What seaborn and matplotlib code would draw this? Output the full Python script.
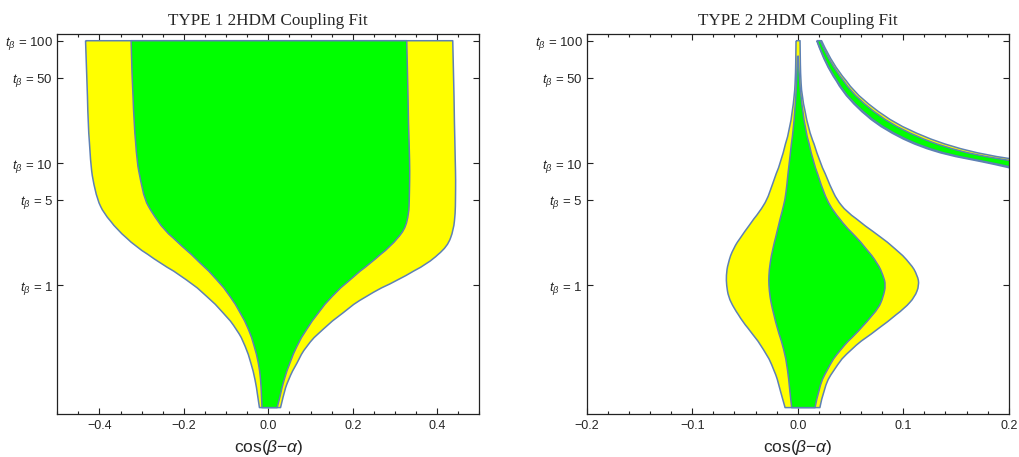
import numpy as np
import matplotlib
matplotlib.use("Agg")
import matplotlib.pyplot as plt
from matplotlib.path import Path
from matplotlib.patches import PathPatch
from matplotlib.ticker import MultipleLocator, NullLocator
import seaborn as sns

# ---------------- data ----------------
# TYPE 1 : tan(beta) values and boundaries in cos(beta-alpha)
t1 = [100, 50, 20, 10, 7.26, 4.98, 3.88, 2.83, 2.07, 1.51, 1.10, 0.807,
      0.590, 0.432, 0.315, 0.230, 0.168, 0.123, 0.100]
t1_outer_left = [-0.433, -0.430, -0.427, -0.421, -0.416, -0.405, -0.390, -0.358,
                 -0.315, -0.256, -0.192, -0.145, -0.106, -0.074, -0.054, -0.041,
                 -0.031, -0.025, -0.021]
t1_inner_left = [-0.325, -0.323, -0.318, -0.311, -0.303, -0.293, -0.275, -0.248,
                 -0.204, -0.161, -0.121, -0.090, -0.066, -0.046, -0.033, -0.023,
                 -0.018, -0.016, -0.015]
t1_inner_right = [0.328, 0.330, 0.332, 0.335, 0.335, 0.334, 0.333, 0.324,
                  0.290, 0.242, 0.193, 0.150, 0.118, 0.090, 0.067, 0.051,
                  0.037, 0.028, 0.021]
t1_outer_right = [0.437, 0.439, 0.441, 0.443, 0.444, 0.4435, 0.443, 0.439,
                  0.425, 0.380, 0.308, 0.229, 0.176, 0.128, 0.089, 0.068,
                  0.047, 0.035, 0.029]

# TYPE 2 : central region
t2 = [100, 75, 55, 34.8, 18.6, 10, 6.4, 5, 4, 3, 2.5, 2, 1.5, 1.2, 1, 0.8,
      0.65, 0.5, 0.4, 0.3, 0.2, 0.14, 0.1]
t2_outer_left = [-0.0016, -0.0018, -0.0020, -0.0030, -0.0073, -0.016, -0.0247,
                 -0.029, -0.0360, -0.047, -0.0535, -0.0610, -0.0662, -0.0678,
                 -0.0675, -0.0657, -0.0605, -0.052, -0.043, -0.0325, -0.0219,
                 -0.0168, -0.012]
t2_outer_right = [0.0022, 0.0024, 0.0026, 0.0038, 0.010, 0.021, 0.031, 0.037,
                  0.046, 0.065, 0.078, 0.092, 0.107, 0.1135, 0.1152, 0.111,
                  0.1016, 0.085, 0.070, 0.0505, 0.0334, 0.0244, 0.021]
t2g = [75, 55, 34.8, 18.6, 10, 6.4, 5, 4, 3, 2.5, 2, 1.5, 1.2, 1, 0.8,
       0.65, 0.5, 0.4, 0.3, 0.2, 0.14, 0.1]
t2_inner_left = [-0.0002, -0.0008, -0.0016, -0.004, -0.008, -0.0104, -0.012,
                 -0.0148, -0.0185, -0.0207, -0.0235, -0.0263, -0.0274, -0.0274,
                 -0.0263, -0.0242, -0.021, -0.0178, -0.0132, -0.0094, -0.0077,
                 -0.0057]
t2_inner_right = [0.0003, 0.0012, 0.0028, 0.0069, 0.0148, 0.0227, 0.0275,
                  0.0340, 0.0455, 0.0550, 0.0645, 0.0759, 0.081, 0.0835, 0.081,
                  0.0768, 0.0654, 0.0552, 0.0407, 0.0272, 0.0197, 0.0164]

# TYPE 2 : wrong-sign branch (thin band)
band_t = [100, 76, 56, 38, 28, 21, 16.4, 13.6, 11.6, 10.3, 9.2, 8.5]
band_y_lo = [0.0180, 0.0230, 0.0305, 0.0425, 0.0566, 0.0735, 0.0947, 0.1159,
             0.1416, 0.1735, 0.1991, 0.2168]
band_y_hi = [0.0226, 0.0290, 0.0385, 0.0535, 0.0714, 0.0925, 0.1193, 0.1461,
             0.1784, 0.2185, 0.2509, 0.2732]
band_g_lo = [0.0184, 0.0235, 0.0312, 0.0434, 0.0579, 0.0751, 0.0968, 0.1186,
             0.1448, 0.1774, 0.2036, 0.2217]
band_g_hi = [0.0214, 0.0274, 0.0364, 0.0506, 0.0675, 0.0876, 0.1129, 0.1382,
             0.1688, 0.2068, 0.2374, 0.2585]

titles = ["TYPE 1 2HDM Coupling Fit", "TYPE 2 2HDM Coupling Fit"]
ytick_vals = [1, 5, 10, 50, 100]
ytick_labels = [r"$t_\beta$ = 1", r"$t_\beta$ = 5", r"$t_\beta$ = 10",
                r"$t_\beta$ = 50", r"$t_\beta$ = 100"]
xticks_1 = [-0.4, -0.2, 0.0, 0.2, 0.4]
xlabels_1 = ["\u22120.4", "\u22120.2", "0.0", "0.2", "0.4"]
xticks_2 = [-0.2, -0.1, 0.0, 0.1, 0.2]
xlabels_2 = ["\u22120.2", "\u22120.1", "0.0", "0.1", "0.2"]
xlabel_text = "cos($\\beta$\u2212$\\alpha$)"

# ---------------- style ----------------
sns.set_style("ticks")
plt.rcParams["font.family"] = ["Liberation Sans", "DejaVu Sans"]
plt.rcParams["mathtext.fontset"] = "custom"
plt.rcParams["mathtext.rm"] = "Liberation Sans"
plt.rcParams["mathtext.it"] = "Liberation Sans:italic"
plt.rcParams["mathtext.bf"] = "Liberation Sans:bold"

YELLOW = "#FFFF00"
GREEN = "#00FF00"
EDGE = "#5E81B5"
LW = 1.1

fig = plt.figure(figsize=(10.19, 4.57), dpi=100)
ax1 = fig.add_axes([0.0562, 0.0947, 0.4142, 0.8302])
ax2 = fig.add_axes([0.5758, 0.0947, 0.4141, 0.8302])


def smooth_segment(pts, verts, codes):
    """Append a smooth (quadratic, midpoint) run through pts; pts[0] already placed."""
    n = len(pts)
    if n <= 2:
        verts.append(pts[-1]); codes.append(Path.LINETO)
        return
    for i in range(1, n - 1):
        mid = ((pts[i][0] + pts[i + 1][0]) / 2, (pts[i][1] + pts[i + 1][1]) / 2)
        if i == n - 2:
            mid = pts[n - 1]
        verts += [pts[i], mid]
        codes += [Path.CURVE3, Path.CURVE3]


def region(ax, t, lo, hi, color):
    left = list(zip(lo, t))
    right = list(zip(hi, t))[::-1]
    verts = [left[0]]
    codes = [Path.MOVETO]
    smooth_segment(left, verts, codes)
    verts.append(right[0]); codes.append(Path.LINETO)
    smooth_segment(right, verts, codes)
    verts.append(left[0]); codes.append(Path.LINETO)
    patch = PathPatch(Path(verts, codes), facecolor=color, edgecolor=EDGE,
                      lw=LW, zorder=2, joinstyle="round")
    ax.add_patch(patch)


region(ax1, t1, t1_outer_left, t1_outer_right, YELLOW)
region(ax1, t1, t1_inner_left, t1_inner_right, GREEN)

region(ax2, t2, t2_outer_left, t2_outer_right, YELLOW)
region(ax2, t2g, t2_inner_left, t2_inner_right, GREEN)
region(ax2, band_t, band_y_lo, band_y_hi, YELLOW)
region(ax2, band_t, band_g_lo, band_g_hi, GREEN)

for ax, title, xt, xl, xlim, xminor in [
        (ax1, titles[0], xticks_1, xlabels_1, (-0.5, 0.5), 0.05),
        (ax2, titles[1], xticks_2, xlabels_2, (-0.2, 0.2), 0.02)]:
    ax.set_yscale("log")
    ax.set_ylim(0.0891, 112.8)
    ax.set_xlim(*xlim)
    ax.set_yticks(ytick_vals)
    ax.set_yticklabels(ytick_labels)
    ax.yaxis.set_minor_locator(NullLocator())
    ax.set_xticks(xt)
    ax.set_xticklabels(xl)
    ax.xaxis.set_minor_locator(MultipleLocator(xminor))
    ax.tick_params(which="both", direction="in", top=True, right=True,
                   color="#222222", width=0.8)
    ax.tick_params(axis="y", labelsize=9.5, pad=3)
    ax.tick_params(axis="x", labelsize=9, pad=4.5)
    ax.tick_params(which="major", length=4)
    ax.tick_params(which="minor", length=2.2)
    for s in ax.spines.values():
        s.set_color("#222222")
        s.set_linewidth(0.9)
    ax.set_title(title, fontfamily="Liberation Serif", fontsize=12.3, pad=7)
    ax.set_xlabel(xlabel_text, fontsize=12.5, labelpad=4)
    ax.set_ylabel("")

sns.despine(fig=fig, top=False, right=False)
fig.savefig("out.png", dpi=100)
